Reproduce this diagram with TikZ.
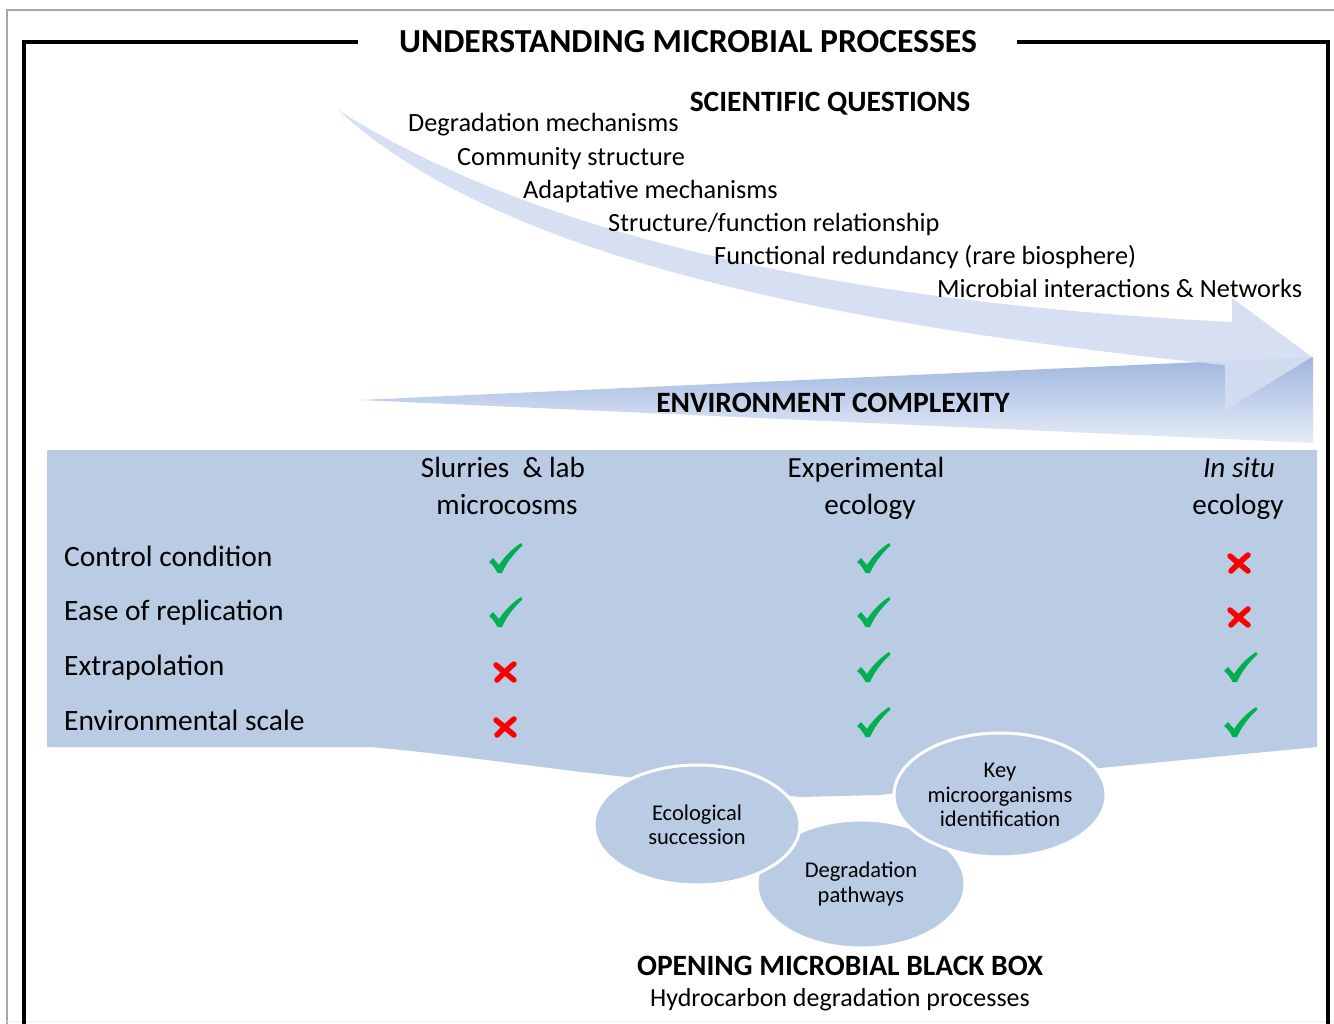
\documentclass[tikz,border=0pt]{standalone}
\usepackage{fontspec}
\setmainfont{Carlito}
\usetikzlibrary{shapes.geometric}
\definecolor{tblue}{RGB}{185,204,228}
\definecolor{arrowblue}{RGB}{212,222,242}
\definecolor{wedgetop}{RGB}{158,182,224}
\definecolor{wedgebot}{RGB}{230,236,247}
\definecolor{ckgreen}{RGB}{0,176,80}
\definecolor{xred}{RGB}{250,0,0}
\tikzset{
 ckmark/.pic={\fill[ckgreen] (-16,4) -- (-12,0) -- (-6,7) .. controls (0,-2) and (7,-9) .. (16,-15) -- (17.5,-12.5) .. controls (8,-4) and (1,6) .. (-3,15) -- (-7.5,15) .. controls (-9.5,11) and (-12,7) .. cycle;},
 xmark/.pic={\draw[xred, line width=5.5pt, line cap=round] (-9,-7) .. controls (-2,-1) and (3,3) .. (9,8) (-8,8) .. controls (-2,2) and (3,-3) .. (9,-8);}
}
\begin{document}
\begin{tikzpicture}[x=1pt,y=-1pt,
  every node/.style={inner sep=0pt, text=black},
  ttl/.style={font=\fontsize{33.6}{40}\selectfont\bfseries, anchor=base},
  bhead/.style={font=\fontsize{29.5}{35}\selectfont\bfseries, anchor=base},
  qitem/.style={font=\fontsize{26.3}{31}\selectfont, anchor=base west},
  rowlab/.style={font=\fontsize{29.5}{35}\selectfont, anchor=base west},
  colhd/.style={font=\fontsize{29.2}{35}\selectfont, anchor=base},
  subt/.style={font=\fontsize{26}{31}\selectfont, anchor=base},
  bubble/.style={ellipse, fill=tblue, draw=white, line width=3pt, font=\fontsize{22.5}{24.5}\selectfont, align=center, inner sep=0pt},
  blackframe/.style={line width=4.5pt, black, line join=miter},
]
\useasboundingbox (0,0) rectangle (1334,1024);
\fill[white] (0,0) rectangle (1334,1024);
% outer thin frame
\draw[gray!70, line width=1.5pt] (7,1024) -- (7,10) -- (1334,10);
\draw[gray!12, line width=1pt] (7,1021) -- (1334,1021);
% black frame
\draw[blackframe] (358,42) -- (24,42) -- (24,1024);
\draw[blackframe] (1017,42) -- (1328,42) -- (1328,1024);
\node[ttl] (title) at (688,53) {UNDERSTANDING MICROBIAL PROCESSES};

% environment complexity wedge
\shade[top color=wedgetop, bottom color=wedgebot] (360,400) -- (1313,357) -- (1313,443) -- cycle;
% curved arrow
\fill[arrowblue, opacity=0.92] (338,110) .. controls (520,225) and (800,300) .. (1232,322) -- (1232,298) -- (1312,357) -- (1225,410) -- (1225,365) .. controls (800,322) and (490,250) .. (338,110) -- cycle;

\node[bhead] (sq) at (830,112) {SCIENTIFIC QUESTIONS};
\node[qitem] (q1) at (408,132) {Degradation mechanisms};
\node[qitem] (q2) at (457,165.5) {Community structure};
\node[qitem] (q3) at (523,198.5) {Adaptative mechanisms};
\node[qitem] (q4) at (608,232) {Structure/function relationship};
\node[qitem] (q5) at (714,265) {Functional redundancy (rare biosphere)};
\node[qitem] (q6) at (937,297.5) {Microbial interactions \& Networks};

\node[bhead] (envc) at (833,413) {ENVIRONMENT COMPLEXITY};

% table funnel
\fill[tblue] (47,450) -- (1317,450) -- (1317,747) -- (1100,768) -- (1000,780) -- (880,795) -- (800,797) -- (700,785) -- (590,773) .. controls (500,762) and (430,752) .. (370,747) -- (47,747) -- cycle;

\node[colhd] (h1a) at (503,477) {Slurries~ \& lab};
\node[colhd] (h1b) at (507,514) {microcosms};
\node[colhd] (h2a) at (866,477) {Experimental};
\node[colhd] (h2b) at (870,514) {ecology};
\node[colhd] (h3a) at (1239,477) {\itshape In situ};
\node[colhd] (h3b) at (1238,514) {ecology};

\node[rowlab] (r1) at (64,566) {Control condition};
\node[rowlab] (r2) at (64,620) {Ease of replication};
\node[rowlab] (r3) at (64,675) {Extrapolation};
\node[rowlab] (r4) at (64,730) {Environmental scale};

\pic at (505,558) {ckmark};
\pic at (505,612) {ckmark};
\pic at (505,672) {xmark};
\pic at (505,727) {xmark};
\pic at (873,558) {ckmark};
\pic at (873,612) {ckmark};
\pic at (873,667) {ckmark};
\pic at (873,722) {ckmark};
\pic at (1239,563) {xmark};
\pic at (1239,617) {xmark};
\pic at (1240,667) {ckmark};
\pic at (1240,722) {ckmark};

% bubbles
\node[bubble, minimum width=208pt, minimum height=128pt] (degp) at (861,884) {Degradation\\pathways};
\node[bubble, minimum width=206pt, minimum height=120pt] (ecos) at (697,825) {Ecological\\succession};
\node[bubble, minimum width=212pt, minimum height=124pt] (keym) at (1000,795) {Key\\microorganisms\\identification};

\node[bhead] (omb) at (840,975) {OPENING MICROBIAL BLACK BOX};
\node[subt] (hdp) at (840,1006) {Hydrocarbon degradation processes};
\end{tikzpicture}
\end{document}
